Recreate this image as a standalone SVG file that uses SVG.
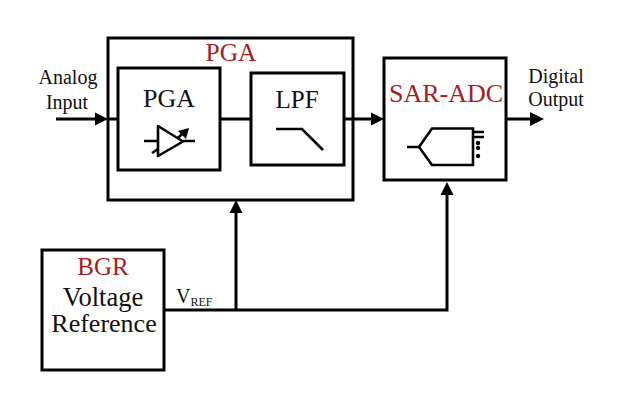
<svg xmlns="http://www.w3.org/2000/svg" width="625" height="405" viewBox="0 0 625 405">
<style>
text{font-family:"Liberation Serif","Times New Roman",serif;fill:#111;text-anchor:middle}
.red{fill:#a81c22}
.box{fill:none;stroke:#000;stroke-width:3}
.ln{fill:none;stroke:#000;stroke-width:3}
.thin{fill:none;stroke:#000;stroke-width:2.600}
.ah{fill:#000;stroke:none}
</style>
<rect width="625" height="405" fill="#fff"/>
<g id="connectors">
<path class="ln" d="M56 119H97"/><polygon class="ah" points="95,112.500 108,119 95,125.500"/>
<path class="ln" d="M108 119H118"/>
<path class="ln" d="M220 119H251"/>
<path class="ln" d="M344 119H372"/><polygon class="ah" points="371,112.500 384,119 371,125.500"/>
<path class="ln" d="M506 119H532"/><polygon class="ah" points="530,112 544,119 530,126"/>
<path class="ln" d="M164 310H447V194"/>
<path class="ln" d="M236 310V211"/>
<polygon class="ah" points="236,200 229.500,213 242.500,213"/>
<polygon class="ah" points="447,182 440.500,195 453.500,195"/>
</g>
<g id="pga-outer"><rect class="box" x="108" y="38" width="245" height="162"/><text class="red" x="231" y="61" font-size="25.500">PGA</text></g>
<g id="pga"><rect class="box" x="118" y="68" width="102" height="102"/><text x="169" y="107" font-size="26">PGA</text>
<path class="thin" d="M144 141H158M183 141H195"/>
<path class="thin" stroke-linejoin="round" d="M158 126V156L183 141.500Z"/>
<path class="thin" d="M152 153L158 149M178 138L184 132"/>
<polygon class="ah" points="189,128 178,131 186,139"/></g>
<g id="lpf"><rect class="box" x="251" y="73" width="93" height="92"/><text x="297" y="108" font-size="25">LPF</text>
<path class="thin" d="M276 129H302L323 150"/></g>
<g id="sar-adc"><rect class="box" x="384" y="58" width="122" height="122"/><text class="red" x="446" y="102" font-size="26">SAR-ADC</text>
<path class="thin" d="M407 147H419L432 128.500H473V165H432L419 147"/>
<path class="thin" d="M473 132H484M473 137H484"/>
<circle class="ah" cx="478" cy="143" r="2.200"/><circle class="ah" cx="478" cy="148" r="2.200"/><circle class="ah" cx="478" cy="156" r="2.200"/>
</g>
<g id="bgr"><rect class="box" x="42" y="250" width="122" height="120"/><text class="red" x="103" y="275" font-size="25">BGR</text><text x="103" y="306" font-size="26.500">Voltage</text><text x="104" y="332" font-size="26">Reference</text></g>
<g id="labels">
<text x="68" y="84" font-size="20">Analog</text><text x="67" y="109" font-size="20">Input</text>
<text x="556" y="83" font-size="20">Digital</text><text x="556" y="106" font-size="20">Output</text>
<text x="176" y="303" font-size="20" style="text-anchor:start">V<tspan font-size="12" dy="3">REF</tspan></text>
</g>
</svg>
